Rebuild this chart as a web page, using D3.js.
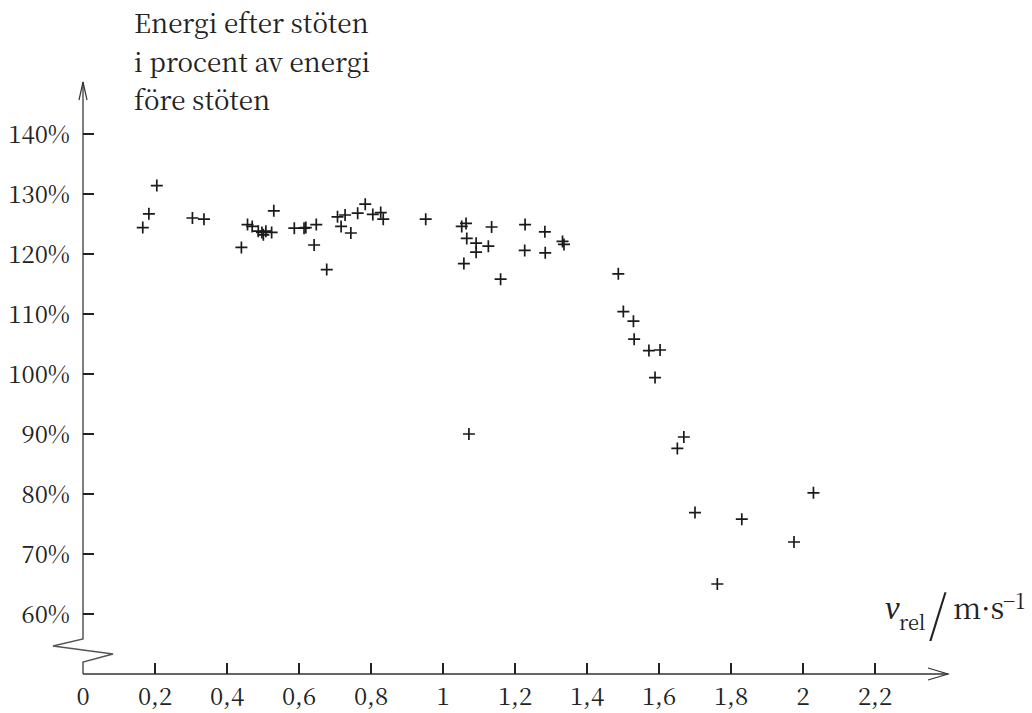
<!DOCTYPE html>
<html>
<head>
<meta charset="utf-8">
<script src="https://cdn.jsdelivr.net/npm/d3@7"></script>
<style>
  body { margin: 0; background: #fff; }
</style>
</head>
<body>
<script>
// relativ hastighet (m/s) och energi efter stöten i procent
const vrel = [0.166, 0.183, 0.205, 0.304, 0.336, 0.440, 0.457, 0.470, 0.487, 0.497,
  0.501, 0.508, 0.524, 0.530, 0.587, 0.614, 0.619, 0.648, 0.642, 0.677,
  0.707, 0.728, 0.717, 0.744, 0.763, 0.784, 0.805, 0.827, 0.834, 0.952,
  1.052, 1.064, 1.066, 1.092, 1.092, 1.126, 1.135, 1.058, 1.160, 1.228,
  1.227, 1.283, 1.284, 1.332, 1.336, 1.487, 1.072, 1.501, 1.529, 1.531,
  1.572, 1.603, 1.589, 1.669, 1.651, 2.029, 1.700, 1.830, 1.975, 1.762];
const energi = [124.4, 126.7, 131.4, 126.0, 125.8, 121.1, 124.9, 124.6, 123.8, 123.6,
  123.2, 123.8, 123.6, 127.2, 124.3, 124.3, 124.4, 124.9, 121.5, 117.4,
  126.2, 126.5, 124.6, 123.5, 126.8, 128.3, 126.6, 126.9, 125.8, 125.8,
  124.6, 125.1, 122.6, 121.8, 120.3, 121.3, 124.5, 118.4, 115.8, 124.9,
  120.6, 123.7, 120.2, 122.1, 121.6, 116.7, 90.0, 110.4, 108.8, 105.8,
  103.9, 104.0, 99.4, 89.5, 87.6, 80.2, 76.9, 75.8, 72.0, 65.0];

const xTicks = [0.2, 0.4, 0.6, 0.8, 1, 1.2, 1.4, 1.6, 1.8, 2, 2.2];
const xLabels = ["0", "0,2", "0,4", "0,6", "0,8", "1", "1,2", "1,4", "1,6", "1,8", "2", "2,2"];
const yTicks = [60, 70, 80, 90, 100, 110, 120, 130, 140];
const titleLines = ["Energi efter stöten", "i procent av energi", "före stöten"];

const width = 1032, height = 713;
const x0 = 83, yAxis = 674;
const serif = '"Noto Serif CJK SC"';
const italic = '"Liberation Serif"';

const x = d3.scaleLinear().domain([0, 2.2]).range([x0, 875]);
const y = d3.scaleLinear().domain([60, 140]).range([614, 134]);

const svg = d3.select("body").append("svg")
  .attr("width", width)
  .attr("height", height);

// y-axel med brytning
svg.append("path")
  .attr("d", `M${x0},82 V639 L${x0 - 30},646 L${x0 + 30},654 L${x0},662 V${yAxis}`)
  .attr("fill", "none")
  .attr("stroke", "#555")
  .attr("stroke-width", 1.5);
svg.append("path")
  .attr("d", `M${x0 - 4},100 L${x0},82 L${x0 + 4},100`)
  .attr("fill", "none")
  .attr("stroke", "#333")
  .attr("stroke-width", 1.2);

// x-axel
svg.append("path")
  .attr("d", `M${x0},${yAxis} H948`)
  .attr("stroke", "#333")
  .attr("stroke-width", 1.5);
svg.append("path")
  .attr("d", `M928,${yAxis - 6} L948,${yAxis} L928,${yAxis + 6}`)
  .attr("fill", "none")
  .attr("stroke", "#333")
  .attr("stroke-width", 1.2);

// y-ticks
let yt = svg.append("g").selectAll("g").data(yTicks).enter().append("g")
  .attr("transform", d => `translate(0,${y(d)})`);
yt.append("line")
  .attr("x1", x0).attr("x2", x0 + 11)
  .attr("stroke", "#222").attr("stroke-width", 2);
yt.append("text")
  .attr("x", 70).attr("y", 9)
  .attr("text-anchor", "end")
  .style("font-family", serif)
  .style("font-size", "24px")
  .style("fill", "#222")
  .text(d => d + "%");

// x-ticks
svg.append("g").selectAll("line").data(xTicks).enter().append("line")
  .attr("x1", d => x(d)).attr("x2", d => x(d))
  .attr("y1", yAxis).attr("y2", yAxis - 11)
  .attr("stroke", "#222").attr("stroke-width", 2);
svg.append("g").selectAll("text").data([0].concat(xTicks)).enter().append("text")
  .attr("x", d => x(d)).attr("y", 705)
  .attr("text-anchor", "middle")
  .style("font-family", serif)
  .style("font-size", "24px")
  .style("fill", "#222")
  .text((d, i) => xLabels[i]);

// titel
svg.append("text")
  .style("font-family", serif)
  .style("font-size", "26px")
  .style("fill", "#222")
  .selectAll("tspan").data(titleLines).enter().append("tspan")
  .attr("x", 134)
  .attr("y", (d, i) => 33 + i * 38.5)
  .text(d => d);

// x-axelns enhet
let lab = svg.append("g").attr("transform", "translate(885,619)")
  .style("font-family", serif).style("fill", "#222");
lab.append("text").attr("x", 0).style("font-family", italic).style("font-size", "33px")
  .style("font-style", "italic").text("v");
lab.append("text").attr("x", 14).attr("y", 11).style("font-size", "20px").text("rel");
lab.append("text").attr("x", 44).attr("y", 13).style("font-size", "52px")
  .style("font-weight", 300).text("/");
lab.append("text").attr("x", 68).style("font-size", "29px").text("m·s");
lab.append("text").attr("x", 118).attr("y", -10).style("font-size", "21px").text("−1");

// datapunkter
const pts = d3.zip(vrel, energi);
svg.append("g").selectAll("path").data(pts).enter().append("path")
  .attr("transform", d => `translate(${x(d[0])},${y(d[1])})`)
  .attr("d", "M-6,0 H6 M0,-6 V6")
  .attr("stroke", "#1a1a1a")
  .attr("stroke-width", 1.7);
</script>
</body>
</html>
